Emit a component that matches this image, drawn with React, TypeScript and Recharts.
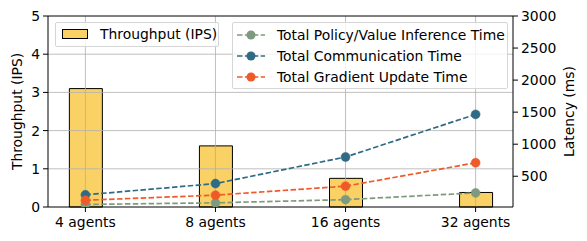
import { ComposedChart, Bar, Line, XAxis, YAxis, ReferenceLine } from 'recharts';

const categories = ['4 agents', '8 agents', '16 agents', '32 agents'];
const throughput = [3.1, 1.6, 0.75, 0.38];
const policyTime = [60, 85, 135, 240];
const commTime = [210, 385, 800, 1465];
const gradTime = [125, 205, 345, 710];
const leftTicks = [0, 1, 2, 3, 4, 5];
const rightTicks = [500, 1000, 1500, 2000, 2500, 3000];

const data = categories.map((c, i) => ({
  idx: i,
  name: c,
  throughput: throughput[i],
  policy: policyTime[i],
  comm: commTime[i],
  grad: gradTime[i],
}));

const FONT = '"DejaVu Sans", sans-serif';
const FS = 13.9;
const GRID = '#b0b0b0';
const BAR = '#fad165';
const GREEN = '#7e9a7e';
const BLUE = '#2f6b85';
const ORANGE = '#f05a28';

const lineSeries = [
  { key: 'policy', name: 'Total Policy/Value Inference Time', color: GREEN },
  { key: 'comm', name: 'Total Communication Time', color: BLUE },
  { key: 'grad', name: 'Total Gradient Update Time', color: ORANGE },
];

const tickStyle = { fontSize: FS, fill: '#000', fontFamily: FONT };

export default function App() {
  return (
    <div style={{ position: 'absolute', left: 0, top: 0, width: 587, height: 241, background: '#fff', fontFamily: FONT }}>
      <ComposedChart width={587} height={241} data={data} margin={{ top: 16, right: 0, bottom: 4, left: 0 }}>
        <XAxis
          dataKey="idx"
          type="number"
          domain={[-0.2875, 3.2875]}
          ticks={[0, 1, 2, 3]}
          tickFormatter={(v: number) => categories[v]}
          tick={tickStyle}
          axisLine={{ stroke: '#000' }}
          tickLine={{ stroke: '#000' }}
          tickSize={5}
          tickMargin={5}
          height={30}
          allowDataOverflow
        />
        <YAxis
          yAxisId="left"
          domain={[0, 5]}
          ticks={leftTicks}
          width={48}
          tick={tickStyle}
          axisLine={{ stroke: '#000' }}
          tickLine={{ stroke: '#000' }}
          tickSize={5}
          tickMargin={3}
          label={{ value: 'Throughput (IPS)', angle: -90, position: 'insideLeft', offset: 17, style: { ...tickStyle, textAnchor: 'middle' } }}
        />
        <YAxis
          yAxisId="right"
          orientation="right"
          domain={[20, 3000]}
          ticks={rightTicks}
          width={74}
          tick={tickStyle}
          axisLine={{ stroke: '#000' }}
          tickLine={{ stroke: '#000' }}
          tickSize={5}
          tickMargin={3}
          allowDataOverflow
          label={{ value: 'Latency (ms)', angle: -90, position: 'insideRight', offset: 18, style: { ...tickStyle, textAnchor: 'middle' } }}
        />
        <Bar
          yAxisId="left"
          dataKey="throughput"
          fill={BAR}
          stroke="#000"
          strokeWidth={1}
          barSize={33}
          isAnimationActive={false}
        />
        {[0, 1, 2, 3].map((x) => (
          <ReferenceLine key={'vx' + x} yAxisId="left" x={x} stroke={GRID} strokeWidth={0.8} />
        ))}
        {[1, 2, 3, 4].map((y) => (
          <ReferenceLine key={'hy' + y} yAxisId="left" y={y} stroke={GRID} strokeWidth={0.8} />
        ))}
        <ReferenceLine yAxisId="left" y={5} stroke="#000" strokeWidth={1} />
        {lineSeries.map((s) => (
          <Line
            key={s.key}
            yAxisId="right"
            dataKey={s.key}
            name={s.name}
            stroke={s.color}
            strokeWidth={1.7}
            strokeDasharray="5.5 2.4"
            dot={{ r: 4.5, fill: s.color, stroke: s.color, strokeWidth: 0.5, strokeDasharray: '' }}
            isAnimationActive={false}
          />
        ))}
      </ComposedChart>

      <div
        style={{
          position: 'absolute', left: 55, top: 22, width: 164, height: 25, boxSizing: 'border-box',
          border: '1px solid #d6d6d6', borderRadius: 2, background: 'rgba(255,255,255,0.8)',
        }}
      >
        <div style={{ position: 'absolute', left: 6, top: 6, width: 26, height: 10, boxSizing: 'border-box', background: BAR, border: '1px solid #000' }} />
        <div style={{ position: 'absolute', left: 44, top: 3, fontSize: FS, lineHeight: '16px', whiteSpace: 'nowrap' }}>Throughput (IPS)</div>
      </div>

      <div
        style={{
          position: 'absolute', left: 232, top: 22, width: 276, height: 67, boxSizing: 'border-box',
          border: '1px solid #d6d6d6', borderRadius: 2, background: 'rgba(255,255,255,0.8)',
        }}
      >
        {lineSeries.map((s, i) => (
          <div key={s.key} style={{ position: 'absolute', left: 0, top: 4 + i * 21, height: 16, width: 274 }}>
            <svg width={30} height={16} style={{ position: 'absolute', left: 4, top: 0 }}>
              <line x1={0} y1={8} x2={28} y2={8} stroke={s.color} strokeWidth={1.7} strokeDasharray="5.5 2.4" />
              <circle cx={14} cy={8} r={4.5} fill={s.color} />
            </svg>
            <div style={{ position: 'absolute', left: 44, top: 0, fontSize: FS, lineHeight: '16px', whiteSpace: 'nowrap' }}>{s.name}</div>
          </div>
        ))}
      </div>
    </div>
  );
}
